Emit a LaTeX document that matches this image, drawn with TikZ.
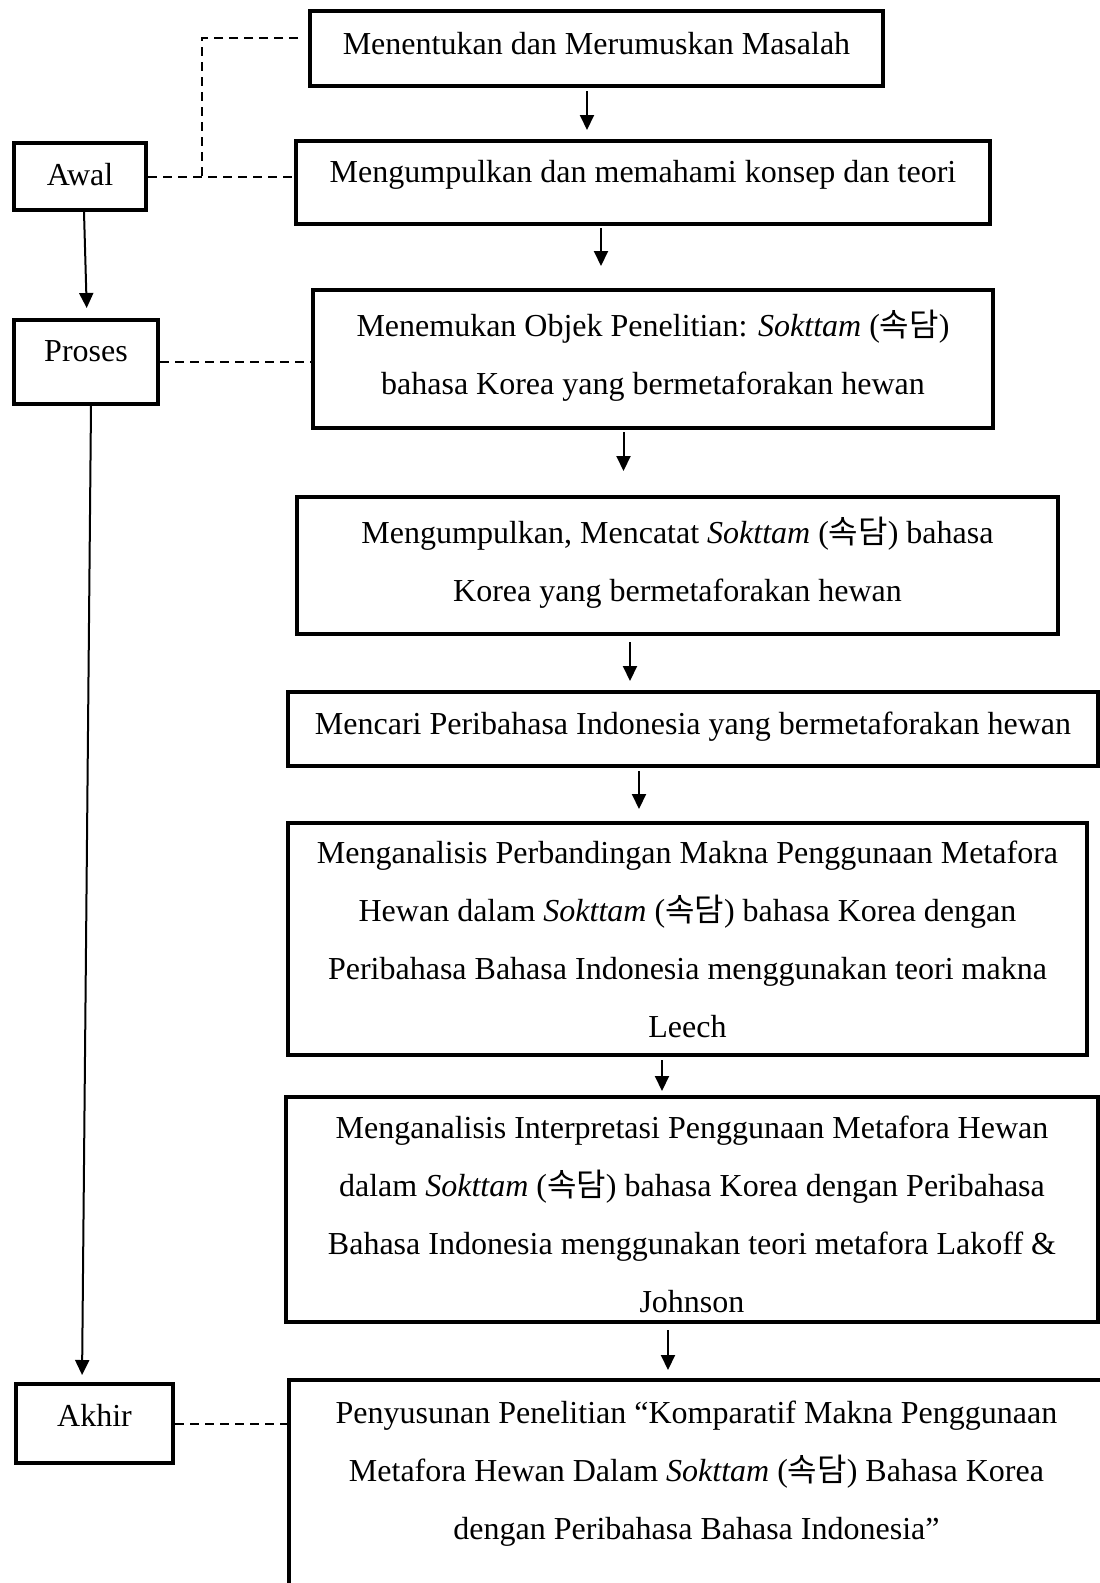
\documentclass[tikz,border=0pt]{standalone}
\usepackage{fontspec}
\setmainfont{Liberation Serif}
\newfontfamily\kofont{Noto Sans CJK KR}
\newcommand{\hangul}[1]{{\kofont #1}}
\usetikzlibrary{arrows.meta}
\tikzstyle{task} = [rectangle, draw=black, line width=4pt, text centered, align=center, font=\fontsize{32}{58}\selectfont, text height=22pt, inner sep=0pt]
\tikzstyle{phase} = [rectangle, draw=black, line width=4pt, text centered, font=\fontsize{32}{58}\selectfont, text height=22pt, inner sep=0pt]
\tikzstyle{arrow} = [line width=2pt, -{Triangle[length=15pt, width=14pt]}]
\tikzstyle{link} = [line width=2pt, dash pattern=on 9pt off 6pt]

\begin{document}
\begin{tikzpicture}[x=1pt, y=-1pt]
			\useasboundingbox (0,0) rectangle (1100,1583);
			\node (awal) [phase, minimum width=132pt, minimum height=67pt, text depth=5pt] at (80,176.5) {Awal};
			\node (proses) [phase, minimum width=144.5pt, minimum height=84pt, text depth=23pt] at (86,362) {Proses};
			\node (akhir) [phase, minimum width=157pt, minimum height=79pt, text depth=16pt] at (94.5,1423.5) {Akhir};

			\node (masalah) [task, minimum width=573pt, minimum height=75pt, text depth=11pt] at (596.5,48.5) {Menentukan dan Merumuskan Masalah};
			\node (teori) [task, minimum width=694pt, minimum height=83pt, text depth=23pt] at (643,182.5) {Mengumpulkan dan memahami konsep dan teori};
			\node (objek) [task, minimum width=680pt, minimum height=138.5pt, text height=80pt, text depth=9pt] at (653,358.75) {Menemukan Objek Penelitian: \textit{Sokttam} (\hangul{속담})\\bahasa Korea yang bermetaforakan hewan};
			\node (catat) [task, minimum width=761pt, minimum height=137pt, text height=80pt, text depth=9pt] at (677.5,565.5) {Mengumpulkan, Mencatat \textit{Sokttam} (\hangul{속담}) bahasa\\Korea yang bermetaforakan hewan};
			\node (cari) [task, minimum width=810pt, minimum height=74pt, text depth=12pt] at (693,729) {Mencari Peribahasa Indonesia yang bermetaforakan hewan};
			\node (makna) [task, minimum width=799pt, minimum height=232pt, text height=197pt, text depth=0pt] at (687.5,939) {Menganalisis Perbandingan Makna Penggunaan Metafora\\Hewan dalam \textit{Sokttam} (\hangul{속담}) bahasa Korea dengan\\Peribahasa Bahasa Indonesia menggunakan teori makna\\Leech};
			\node (tafsir) [task, minimum width=812pt, minimum height=225pt, text height=205pt, text depth=0pt] at (692,1209.5) {Menganalisis Interpretasi Penggunaan Metafora Hewan\\dalam \textit{Sokttam} (\hangul{속담}) bahasa Korea dengan Peribahasa\\Bahasa Indonesia menggunakan teori metafora Lakoff \&\\Johnson};
			\node (susun) [task, minimum width=815pt, minimum height=230pt, text height=138pt, text depth=49pt] at (696.5,1495) {Penyusunan Penelitian “Komparatif Makna Penggunaan\\Metafora Hewan Dalam \textit{Sokttam} (\hangul{속담}) Bahasa Korea\\dengan Peribahasa Bahasa Indonesia”};

			\coordinate (linkend) at (298,38);
			\coordinate (linkbend) at (202,38);

			\draw [link] (awal.east) -- (awal.east -| teori.west);
			\draw [link] (linkend) -- (linkbend) -- (linkbend |- awal.east);
			\draw [link] (proses.east) -- (proses.east -| objek.west);
			\draw [link] (akhir.east) -- (akhir.east -| susun.west);

			\draw [arrow, shorten >=10pt] ([xshift=4pt]awal.south) -- ([xshift=1pt]proses.north);
			\draw [arrow, shorten >=7pt] ([xshift=5pt]proses.south) -- ([xshift=-12.5pt]akhir.north);

			\draw [arrow, shorten <=3pt, shorten >=9pt] ([xshift=-9.5pt]masalah.south) -- ([xshift=-56pt]teori.north);
			\draw [arrow, shorten <=2pt, shorten >=21.5pt] ([xshift=-42pt]teori.south) -- ([xshift=-52pt]objek.north);
			\draw [arrow, shorten <=2pt, shorten >=24pt] ([xshift=-29.5pt]objek.south) -- ([xshift=-54pt]catat.north);
			\draw [arrow, shorten <=6pt, shorten >=9pt] ([xshift=-47.5pt]catat.south) -- ([xshift=-63pt]cari.north);
			\draw [arrow, shorten <=3pt, shorten >=12pt] ([xshift=-54pt]cari.south) -- ([xshift=-48.5pt]makna.north);
			\draw [arrow, shorten <=3pt, shorten >=4pt] ([xshift=-25.5pt]makna.south) -- ([xshift=-30pt]tafsir.north);
			\draw [arrow, shorten <=6pt, shorten >=8pt] ([xshift=-24pt]tafsir.south) -- ([xshift=-28.5pt]susun.north);
		\end{tikzpicture}
\end{document}
